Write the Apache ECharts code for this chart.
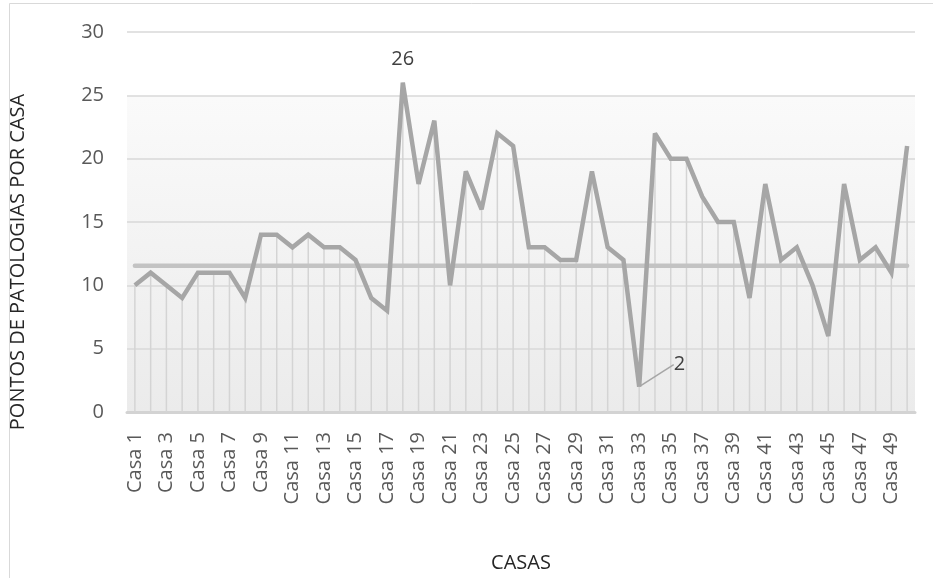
<!DOCTYPE html>
<html>
<head>
<meta charset="utf-8">
<script src="https://cdn.jsdelivr.net/npm/echarts@6/dist/echarts.min.js"></script>
<style>
  html, body { margin: 0; padding: 0; background: #ffffff; }
  #chart { width: 933px; height: 578px; }
</style>
</head>
<body>
<div id="chart"></div>
<script>
// Pontos de patologias identificados em cada casa (Casa 1 .. Casa 50)
const casas = [];
for (let i = 1; i <= 50; i++) casas.push('Casa ' + i);

const pontos = [
  10, 11, 10, 9, 11, 11, 11, 9, 14, 14,
  13, 14, 13, 13, 12, 9, 8, 26, 18, 23,
  10, 19, 16, 22, 21, 13, 13, 12, 12, 19,
  13, 12, 2, 22, 20, 20, 17, 15, 15, 9,
  18, 12, 13, 10, 6, 18, 12, 13, 11, 21
];

// Linha de referência horizontal
const referencia = 11.54;
const linhaReferencia = casas.map(() => referencia);

// Casas com rótulo de valor (máximo e mínimo)
const casaMaximo = 'Casa 18';
const casaMinimo = 'Casa 33';

const yTicks = { min: 0, max: 30, step: 5 };

const FONT = '"Open Sans", "Noto Sans", sans-serif';

const chart = echarts.init(document.getElementById('chart'), null, { renderer: 'canvas' });

const serieDados = pontos.map((v, i) => {
  if (casas[i] === casaMaximo) {
    return {
      value: v,
      label: { show: true, position: 'top', distance: 13 }
    };
  }
  if (casas[i] === casaMinimo) {
    return {
      value: v,
      label: { show: true, position: 'right', distance: 4 },
      labelLine: { show: true }
    };
  }
  return v;
});

const option = {
  animation: false,
  backgroundColor: '#ffffff',
  grid: {
    left: 127, right: 18, top: 32, bottom: 166,
    show: true,
    borderWidth: 0,
    backgroundColor: {
      type: 'linear', x: 0, y: 0, x2: 0, y2: 1,
      colorStops: [
        { offset: 0, color: '#ffffff' },
        { offset: 0.165, color: '#ffffff' },
        { offset: 0.172, color: '#fafafa' },
        { offset: 1, color: '#ebebeb' }
      ]
    }
  },
  graphic: [
    {
      type: 'rect', silent: true, z: -10,
      shape: { x: 9.5, y: 3.5, width: 1000, height: 700 },
      style: { fill: 'none', stroke: '#d9d9d9', lineWidth: 1 }
    },
    {
      type: 'text', silent: true,
      x: 18, y: 262, rotation: Math.PI / 2,
      style: {
        text: 'PONTOS DE PATOLOGIAS POR CASA',
        font: '20px ' + FONT,
        fill: '#262626',
        textAlign: 'center',
        textVerticalAlign: 'middle'
      }
    }
  ],
  xAxis: {
    type: 'category',
    data: casas,
    boundaryGap: true,
    name: 'CASAS',
    nameLocation: 'middle',
    nameGap: 141,
    nameTextStyle: { fontFamily: FONT, fontSize: 20, color: '#262626' },
    axisLine: { show: true, lineStyle: { color: '#d3d3d3', width: 3 } },
    axisTick: { show: false },
    axisLabel: {
      interval: 1,
      rotate: 90,
      margin: 20,
      fontFamily: FONT,
      fontSize: 20,
      color: '#595959'
    },
    splitLine: { show: false }
  },
  yAxis: {
    type: 'value',
    min: yTicks.min,
    max: yTicks.max,
    interval: yTicks.step,
    axisLine: { show: false },
    axisTick: { show: false },
    axisLabel: {
      margin: 23,
      fontFamily: FONT,
      fontSize: 20,
      color: '#595959'
    },
    splitLine: { show: true, lineStyle: { color: '#d9d9d9', width: 1.5 } }
  },
  series: [
    {
      // linhas verticais de cada ponto até o eixo
      name: 'guias',
      type: 'bar',
      data: pontos,
      barWidth: 1.5,
      itemStyle: { color: '#d4d4d4' },
      silent: true,
      z: 1
    },
    {
      name: 'referência',
      type: 'line',
      data: linhaReferencia,
      showSymbol: false,
      symbol: 'none',
      lineStyle: { color: '#c3c3c3', width: 4.5, cap: 'round' },
      silent: true,
      z: 2
    },
    {
      name: 'pontos',
      type: 'line',
      data: serieDados,
      symbol: 'circle',
      symbolSize: 1,
      showSymbol: true,
      showAllSymbol: true,
      itemStyle: { color: 'rgba(0,0,0,0)' },
      lineStyle: { color: '#a6a6a6', width: 4.5, join: 'miter', miterLimit: 3 },
      label: {
        fontFamily: FONT,
        fontSize: 20,
        color: '#404040'
      },
      labelLine: {
        show: false,
        lineStyle: { color: '#a6a6a6', width: 1.5 }
      },
      labelLayout: function (params) {
        if (params.dataIndex === casas.indexOf(casaMinimo)) {
          return { dx: 30, dy: -22 };
        }
        return {};
      },
      z: 3
    }
  ]
};

chart.setOption(option);
</script>
</body>
</html>
